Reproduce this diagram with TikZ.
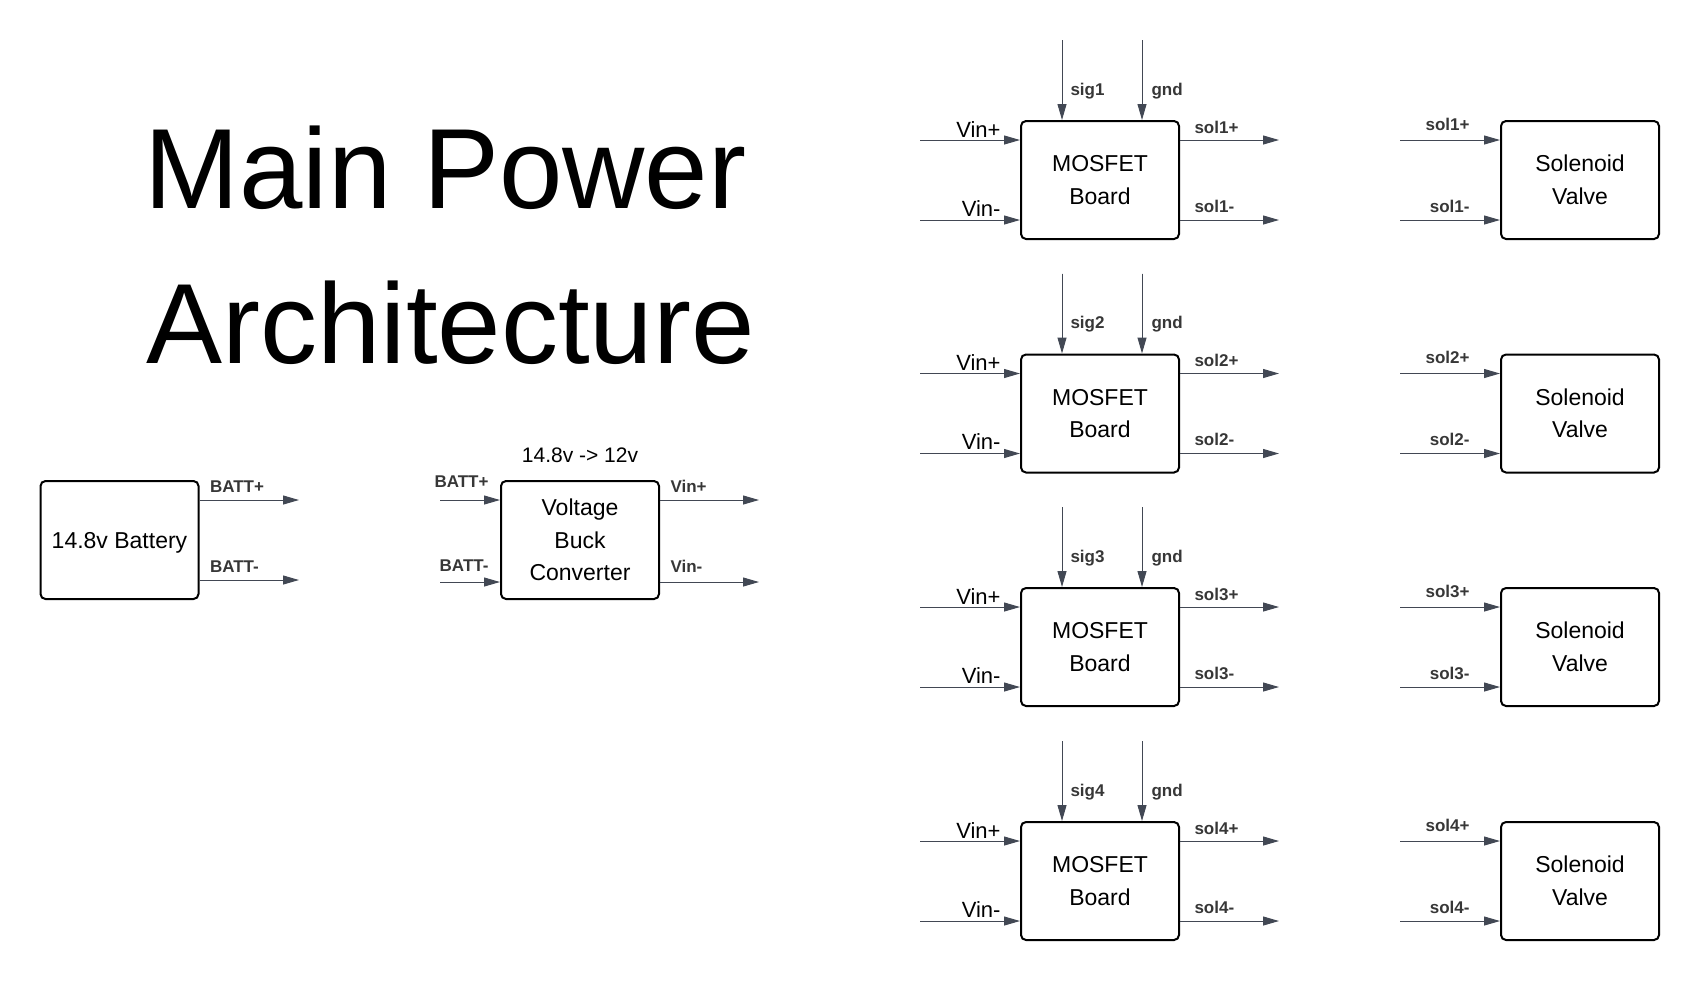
\documentclass[tikz,border=0pt]{standalone}
\usepackage{fontspec}
\setmainfont{Liberation Sans}
\usetikzlibrary{arrows.meta,positioning}
\definecolor{wirecol}{RGB}{66,72,84}
\definecolor{pincol}{RGB}{55,55,55}
\begin{document}
\begin{tikzpicture}[
   x=0.5pt,y=-0.5pt,
   block/.style={draw,line width=1pt,rounded corners=2.5pt,minimum width=79pt,minimum height=59pt,
                 inner sep=0pt,align=center,font=\fontsize{11.5}{16.25}\selectfont},
   wire/.style={-{Triangle[length=8pt,width=4.5pt]},draw=wirecol,fill=wirecol,line width=0.5pt},
   pin/.style={inner sep=0pt,text=pincol,font=\fontsize{8.5}{10}\selectfont\bfseries},
   vin/.style={inner sep=0pt,font=\fontsize{11}{13}\selectfont},
   heading/.style={inner sep=0pt,anchor=base west,font=\fontsize{57}{60}\selectfont}]
\useasboundingbox (0,0) rectangle (1700,981);
% title
\node[heading] (title1) at (144,208) {Main Power};
\node[heading] (title2) at (146,363) {Architecture};
% battery and buck converter
\node[block,text depth=0pt] (bat) at (119.5,540) {14.8v Battery};
\node[block] (buck) at (580,540) {Voltage\\Buck\\Converter};
\node[inner sep=0pt,font=\fontsize{10.5}{12}\selectfont,above=8.5pt of buck] (ratio) {14.8v -> 12v};
\coordinate (bp) at (299,500);
\coordinate (bm) at (299,580);
\coordinate (kp) at (440,500);
\coordinate (km) at (440,582);
\coordinate (vp) at (759,500);
\coordinate (vm) at (759,582);
\draw[wire] (bat.east |- bp) node[pin,anchor=base west,xshift=5pt,yshift=4pt] (lbp) {BATT+} -- (bp);
\draw[wire] (bat.east |- bm) node[pin,anchor=base west,xshift=5pt,yshift=4pt] (lbm) {BATT-} -- (bm);
\draw[wire] (kp) -- (buck.west |- kp) node[pin,anchor=base east,xshift=-5.5pt,yshift=6.5pt] (lkp) {BATT+};
\draw[wire] (km) -- (buck.west |- km) node[pin,anchor=base east,xshift=-5.5pt,yshift=5.5pt] (lkm) {BATT-};
\draw[wire] (buck.east |- vp) node[pin,anchor=base west,xshift=5pt,yshift=4pt] (lvp) {Vin+} -- (vp);
\draw[wire] (buck.east |- vm) node[pin,anchor=base west,xshift=5pt,yshift=5pt] (lvm) {Vin-} -- (vm);
% mosfet boards and solenoid valves
\foreach \i/\y in {1/180,2/413.5,3/647,4/881}{
  \node[block] (mos\i) at (1100,\y) {MOSFET\\Board};
  \node[block] (sol\i) at (1580,\y) {Solenoid\\Valve};
  \coordinate (vp\i) at (920,\y-40);
  \coordinate (vm\i) at (920,\y+40);
  \coordinate (sg\i) at (1062,\y-140);
  \coordinate (gd\i) at (1142,\y-140);
  \coordinate (op\i) at (1279,\y-40);
  \coordinate (om\i) at (1279,\y+40);
  \coordinate (ip\i) at (1400,\y-40);
  \coordinate (im\i) at (1400,\y+40);
  \draw[wire] (vp\i) -- (mos\i.west |- vp\i) node[vin,anchor=base east,xshift=-9.5pt,yshift=1.5pt] (lvp\i) {Vin+};
  \draw[wire] (vm\i) -- (mos\i.west |- vm\i) node[vin,anchor=base east,xshift=-9.5pt,yshift=2pt] (lvm\i) {Vin-};
  \draw[wire] (sg\i) -- (mos\i.north -| sg\i) node[pin,anchor=base west,xshift=4pt,yshift=12.5pt] (lsg\i) {sig\i};
  \draw[wire] (gd\i) -- (mos\i.north -| gd\i) node[pin,anchor=base west,xshift=4.5pt,yshift=12.5pt] (lgd\i) {gnd};
  \draw[wire] (mos\i.east |- op\i) node[pin,anchor=base west,xshift=7pt,yshift=3.5pt] (lop\i) {sol\i+} -- (op\i);
  \draw[wire] (mos\i.east |- om\i) node[pin,anchor=base west,xshift=7pt,yshift=4pt] (lom\i) {sol\i-} -- (om\i);
  \draw[wire] (ip\i) -- (sol\i.west |- ip\i) node[pin,anchor=base east,xshift=-15pt,yshift=5pt] (lip\i) {sol\i+};
  \draw[wire] (im\i) -- (sol\i.west |- im\i) node[pin,anchor=base east,xshift=-15pt,yshift=4pt] (lim\i) {sol\i-};
}
\end{tikzpicture}
\end{document}
